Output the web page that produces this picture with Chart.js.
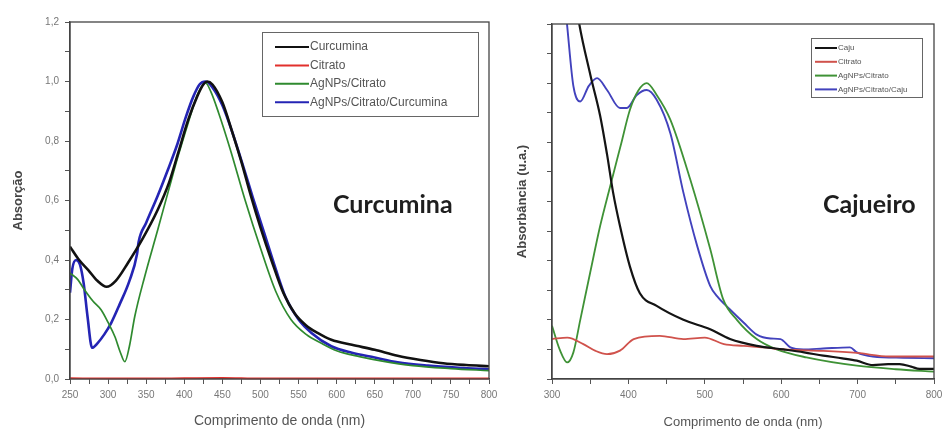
<!DOCTYPE html>
<html>
<head>
<meta charset="utf-8">
<script src="https://cdn.jsdelivr.net/npm/chart.js@4.4.1/dist/chart.umd.min.js"></script>
<style>
  body { margin: 0; background: #fff; }
  #wrap { position: relative; width: 942px; height: 433px; overflow: hidden; }
  #left { position: absolute; left: 0; top: 0; }
  #right { position: absolute; left: 495px; top: 0; }
</style>
</head>
<body>
<div id="wrap">
  <canvas id="left" width="510" height="433"></canvas>
  <canvas id="right" width="460" height="433"></canvas>
</div>
<script>
// ---- panel 1 : Curcumina  [wavelength nm, absorbance] ----
const curcLabels = ["Curcumina", "Citrato", "AgNPs/Citrato", "AgNPs/Citrato/Curcumina"];
const curcumina = [[250,0.445],[262,0.40],[274,0.366],[286,0.33],[298,0.31],[310,0.33],[326,0.39],[345,0.47],[365,0.568],
  [380,0.66],[392,0.76],[405,0.87],[417,0.95],[425,0.99],[430,1.0],[437,0.99],[450,0.93],[463,0.83],[475,0.73],
  [487,0.62],[500,0.51],[515,0.395],[530,0.29],[545,0.22],[560,0.18],[575,0.155],[593,0.132],[620,0.115],[650,0.098],
  [680,0.078],[710,0.064],[740,0.053],[770,0.047],[800,0.043]];
const citrato1 = [[250,0.003],[300,0.002],[350,0.002],[400,0.003],[450,0.004],[500,0.002],[600,0.002],[700,0.002],[800,0.002]];
const agCitrato1 = [[250,0.356],[260,0.335],[269,0.30],[280,0.262],[291,0.232],[300,0.19],[309,0.142],[316,0.09],[322,0.058],
  [328,0.11],[335,0.21],[348,0.344],[365,0.50],[380,0.64],[392,0.75],[405,0.86],[415,0.94],[422,0.98],[428,0.995],
  [435,0.965],[445,0.895],[460,0.775],[480,0.60],[500,0.44],[520,0.295],[540,0.20],[560,0.15],[580,0.12],[600,0.095],
  [630,0.075],[660,0.06],[700,0.045],[750,0.035],[800,0.028]];
const agCitCurc = [[250,0.29],[253,0.37],[258,0.40],[263,0.385],[268,0.32],[273,0.21],[279,0.105],[286,0.12],[295,0.15],
  [304,0.188],[315,0.25],[328,0.33],[338,0.42],[340,0.46],[350,0.525],[365,0.615],[378,0.70],[391,0.79],[402,0.88],
  [412,0.95],[420,0.99],[428,1.0],[437,0.98],[450,0.92],[463,0.83],[478,0.71],[490,0.61],[505,0.49],[520,0.37],
  [533,0.275],[550,0.20],[567,0.155],[593,0.11],[620,0.088],[650,0.072],[680,0.056],[720,0.045],[760,0.038],[800,0.033]];

// ---- panel 2 : Cajueiro ----
const cajuLabels = ["Caju", "Citrato", "AgNPs/Citrato", "AgNPs/Citrato/Caju"];
const caju = [[330,1.30],[335,1.21],[350,1.03],[363,0.89],[372,0.76],[380,0.63],[389,0.517],[402,0.38],[415,0.29],
  [437,0.247],[472,0.20],[507,0.168],[533,0.135],[568,0.112],[603,0.10],[630,0.09],[655,0.079],[680,0.07],[699,0.062],
  [720,0.047],[740,0.05],[755,0.05],[770,0.042],[781,0.034],[800,0.034]];
const citrato2 = [[300,0.135],[320,0.14],[341,0.118],[357,0.095],[372,0.084],[389,0.096],[407,0.135],[441,0.146],
  [472,0.135],[500,0.14],[525,0.118],[551,0.112],[577,0.107],[603,0.10],[655,0.095],[699,0.088],[742,0.076],[800,0.076]];
const agCitrato2 = [[300,0.18],[310,0.10],[320,0.056],[328,0.09],[337,0.20],[350,0.36],[363,0.517],[376,0.65],[390,0.79],
  [402,0.91],[413,0.975],[424,1.0],[437,0.96],[455,0.876],[481,0.674],[507,0.44],[524,0.27],[542,0.20],[568,0.135],
  [594,0.10],[633,0.073],[699,0.045],[750,0.033],[800,0.025]];
const agCitCaju = [[316,1.30],[320,1.19],[328,0.99],[337,0.938],[348,0.99],[359,1.017],[372,0.977],[389,0.916],
  [398,0.916],[411,0.96],[424,0.977],[437,0.944],[455,0.83],[472,0.63],[490,0.45],[507,0.315],[516,0.28],[533,0.235],
  [551,0.19],[568,0.15],[586,0.137],[599,0.135],[612,0.107],[629,0.10],[655,0.103],[690,0.107],[699,0.09],
  [720,0.076],[760,0.072],[800,0.07]];

const pts = arr => arr.map(p => ({ x: p[0], y: p[1] }));

const decor = {
  id: 'decor',
  afterDraw(chart, args, o) {
    const ctx = chart.ctx, a = chart.chartArea;
    ctx.save();
    // frame
    ctx.strokeStyle = '#444';
    ctx.lineWidth = 1.3;
    ctx.strokeRect(a.left, a.top, a.right - a.left, a.bottom - a.top);
    // panel name
    ctx.fillStyle = '#1e1e1e';
    ctx.font = o.nameFont;
    ctx.textBaseline = 'alphabetic';
    ctx.fillText(o.name, o.nameX, o.nameY);
    // legend box
    const b = o.box;
    ctx.fillStyle = '#fff';
    ctx.fillRect(b.x, b.y, b.w, b.h);
    ctx.strokeStyle = '#666';
    ctx.lineWidth = 1;
    ctx.strokeRect(b.x + 0.5, b.y + 0.5, b.w, b.h);
    ctx.font = o.legFont;
    ctx.textBaseline = 'middle';
    chart.data.datasets.forEach((ds, i) => {
      const y = b.y + o.rowTop + i * o.rowGap;
      ctx.strokeStyle = ds.borderColor;
      ctx.lineWidth = 2;
      ctx.beginPath();
      ctx.moveTo(b.x + o.lineX0, y);
      ctx.lineTo(b.x + o.lineX1, y);
      ctx.stroke();
      ctx.fillStyle = '#555';
      ctx.fillText(ds.label, b.x + o.lineX1 + 1, y);
    });
    ctx.restore();
  }
};

function panel(id, sets, cfg) {
  return new Chart(document.getElementById(id), {
    type: 'line',
    data: {
      datasets: sets.map(s => ({
        label: s.label, data: pts(s.data), borderColor: s.color, borderWidth: s.width,
        pointRadius: 0, cubicInterpolationMode: 'monotone', fill: false,
        clip: { left: 0, top: 0, right: 0, bottom: 4 }
      }))
    },
    options: {
      responsive: false, animation: false, devicePixelRatio: 1,
      layout: { padding: cfg.padding },
      plugins: { legend: { display: false }, tooltip: { enabled: false }, decor: cfg.decor },
      scales: {
        x: {
          type: 'linear', min: cfg.xMin, max: cfg.xMax,
          afterFit: s => { s.height = 54; },
          ticks: {
            stepSize: cfg.xStep, autoSkip: false, maxRotation: 0, padding: 5,
            color: '#777', font: { family: 'Liberation Sans', size: 10 },
            callback: v => (v % cfg.xLabelStep === 0 ? v : '')
          },
          grid: { drawOnChartArea: false, tickLength: 5, color: '#555' },
          border: { color: '#444', width: 1.3 },
          title: {
            display: true, text: 'Comprimento de onda (nm)', color: '#555',
            font: { family: 'Liberation Sans', size: cfg.xTitleSize }, padding: { top: 0, bottom: 3 }
          }
        },
        y: {
          min: 0, max: 1.2,
          afterFit: s => { s.width = cfg.yWidth; },
          ticks: {
            stepSize: 0.1, autoSkip: false, padding: 6,
            color: '#777', font: { family: 'Liberation Sans', size: 10 },
            callback: cfg.yLabel
          },
          grid: { drawOnChartArea: false, tickLength: 5, color: '#555' },
          border: { color: '#444', width: 1.3 },
          title: {
            display: true, text: cfg.yTitle, color: '#444',
            font: { family: 'Liberation Sans', size: 13, weight: 'bold' }, padding: { top: cfg.yTitlePad, bottom: 0 }
          }
        }
      }
    },
    plugins: [decor]
  });
}

panel('left', [
  { label: curcLabels[0], data: curcumina, color: '#111111', width: 2.6 },
  { label: curcLabels[1], data: citrato1, color: '#e2302c', width: 1.6 },
  { label: curcLabels[2], data: agCitrato1, color: '#2f8a2f', width: 1.7 },
  { label: curcLabels[3], data: agCitCurc, color: '#2424b4', width: 2.6 }
], {
  padding: { left: 0, top: 22, right: 21, bottom: 0 },
  xMin: 250, xMax: 800, xStep: 25, xLabelStep: 50, xTitleSize: 14,
  yWidth: 70, yTitle: 'Absorção', yTitlePad: 11,
  yLabel: v => (Math.round(v * 10) % 2 === 0 ? v.toFixed(1).replace('.', ',') : ''),
  decor: {
    name: 'Curcumina', nameX: 333, nameY: 213, nameFont: 'bold 25px Lato',
    box: { x: 262, y: 32, w: 216, h: 84 }, rowTop: 15, rowGap: 18.4,
    lineX0: 13, lineX1: 47, legFont: '12px "Liberation Sans"'
  }
});

panel('right', [
  { label: cajuLabels[0], data: caju, color: '#141414', width: 2.2 },
  { label: cajuLabels[1], data: citrato2, color: '#d0524c', width: 1.8 },
  { label: cajuLabels[2], data: agCitrato2, color: '#3f9236', width: 1.8 },
  { label: cajuLabels[3], data: agCitCaju, color: '#4242bd', width: 1.9 }
], {
  padding: { left: 0, top: 24, right: 21, bottom: 0 },
  xMin: 300, xMax: 800, xStep: 50, xLabelStep: 100, xTitleSize: 13,
  yWidth: 57, yTitle: 'Absorbância (u.a.)', yTitlePad: 20,
  yLabel: () => '',
  decor: {
    name: 'Cajueiro', nameX: 328, nameY: 213, nameFont: 'bold 25px Lato',
    box: { x: 316, y: 38, w: 111, h: 59 }, rowTop: 10, rowGap: 13.8,
    lineX0: 4, lineX1: 26, legFont: '8px "Liberation Sans"'
  }
});
</script>
</body>
</html>
